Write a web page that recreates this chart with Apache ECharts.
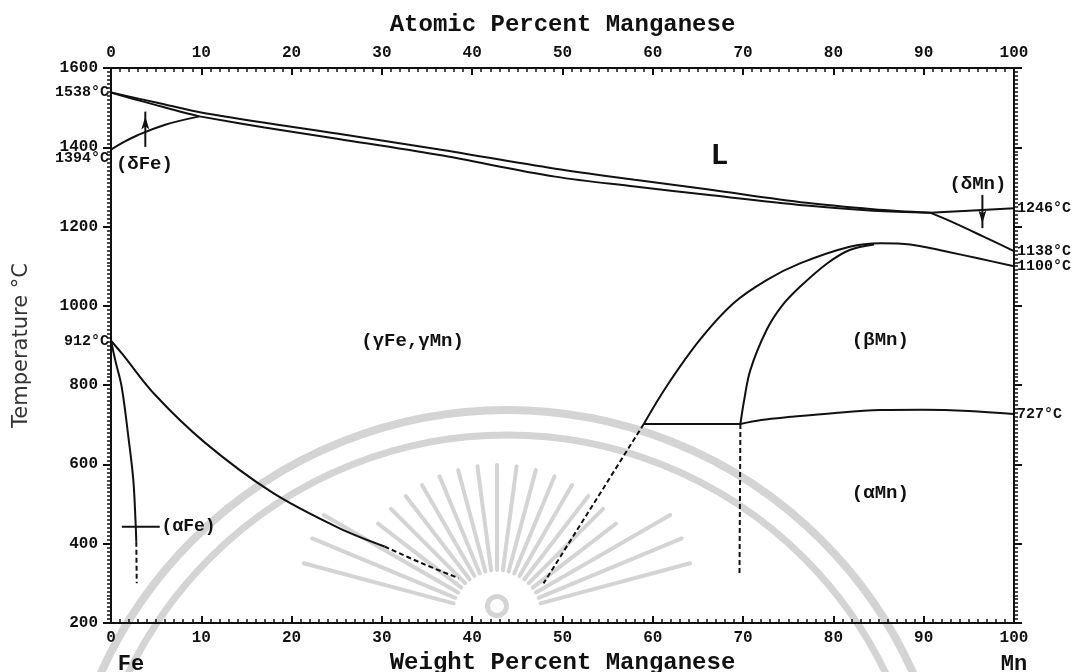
<!DOCTYPE html>
<html><head><meta charset="utf-8">
<script src="https://cdn.jsdelivr.net/npm/echarts@6/dist/echarts.min.js"></script>
<style>html,body{margin:0;padding:0;background:#fff}#c{width:1081px;height:672px}</style>
</head><body><div id="c"></div>
<script>
// ---- data (weight % Mn, temperature °C) ----
const liquidus = [[0,1538],[5,1513],[10.4,1486],[25.2,1434],[36.2,1395],[49.2,1346],[58,1318],[66,1294],[77,1260],[84.4,1244],[90.7,1235]];
const deltaFeSolidus = [[0,1538],[2.5,1522],[4.9,1507],[7.5,1491],[9.8,1478]];
const deltaFeGammaBoundary = [[0,1394],[1.5,1414],[3,1431],[6,1457],[9.8,1478]];
const gammaSolidus = [[9.8,1478],[17,1450],[25.2,1421],[36.2,1381],[49.2,1326],[58,1301],[66,1280],[77,1253],[84.4,1240],[90.7,1235]];
const deltaMnLiquidus = [[90.7,1235],[95,1240],[100,1246]];
const deltaMnGammaBoundary = [[90.7,1235],[93,1213],[96.5,1176],[100,1138]];
const gammaBetaOuter = [[59,702],[61.5,796],[65.2,914],[68.9,1006],[72.6,1065],[76.3,1107],[81.8,1149],[85.2,1158],[88.5,1155],[92.5,1137],[96,1120],[100,1100]];
const gammaBetaInner = [[69.7,702],[70.1,760],[70.8,838],[72.6,939],[74.3,1000],[76.3,1048],[79.3,1107],[81.8,1141],[84.5,1155]];
const eutectoid = [[59,702],[69.7,702]];
const alphaBetaMn = [[69.7,702],[72,712],[75.3,720],[80.2,730],[85.2,737],[89.8,738],[95,735],[100,727]];
const gammaAlphaFe = [[0,912],[1.2,880],[4.9,775],[10.4,655],[17.8,530],[25.2,440],[30.3,393]];
const gammaAlphaFeDashed = [[30.3,393],[34.5,350],[38.5,313]];
const alphaFeSolvus = [[0,912],[0.5,860],[1.18,796],[1.92,670],[2.47,561],[2.73,450],[2.8,405]];
const alphaFeSolvusDashed = [[2.8,405],[2.85,300]];
const betaDashed = [[59,702],[47.9,300]];
const mnDashed = [[69.7,702],[69.6,325]];
const alphaFeMarker = [[1.2,443],[5.4,443]];
const deltaFeArrow = [[3.8,1401],[3.8,1490]];
const deltaMnArrow = [[96.5,1280],[96.5,1196]];

const regionLabels = [[67.4,1376,'L'],[33.4,911,'(γFe,γMn)'],[85.2,914,'(βMn)'],[85.2,528,'(αMn)'],[3.7,1358,'(δFe)'],[96,1306,'(δMn)']];
const alphaFeLabel = [[5.6,443,'(αFe)']];
const leftTempLabels = [[0,1538,'1538°C'],[0,1394,'1394°C'],[0,912,'912°C']];
const rightTempLabels = [[100,1246,'1246°C'],[100,1138,'1138°C'],[100,1100,'1100°C'],[100,727,'727°C']];
const elementLabels = [[0,200,'Fe'],[100,200,'Mn']];

const xTickValues = [0,10,20,30,40,50,60,70,80,90,100];
const yTickValues = [200,400,600,800,1000,1200,1400,1600];

// ---- build ----
const MONO = 'Liberation Mono';
const INK = '#111';
function lineSeries(data, opts) {
  opts = opts || {};
  return {
    type: 'line', data: data, symbol: 'none', silent: true, animation: false,
    smooth: data.length > 2 ? (opts.smooth != null ? opts.smooth : 0.35) : false,
    lineStyle: { color: INK, width: opts.width || 2, type: opts.dashed ? [5, 3] : 'solid' },
    z: 3
  };
}
function arrowSeries(data, rotate) {
  return {
    type: 'line', silent: true, animation: false, z: 3,
    data: [{ value: data[0], symbol: 'none' }, { value: data[1], symbol: 'arrow', symbolSize: [6, 13], symbolRotate: rotate, symbolOffset: [0, rotate ? -5 : 5] }],
    lineStyle: { color: INK, width: 2 }, itemStyle: { color: INK }
  };
}
function labelSeries(arr, labelOpt) {
  return {
    type: 'scatter', silent: true, animation: false, clip: false, symbolSize: 0.1,
    itemStyle: { color: INK, opacity: 1 }, z: 4,
    data: arr.map(d => ({ value: [d[0], d[1]], label: Object.assign({ show: true, formatter: d[2], opacity: 1, textBorderWidth: 0 }, typeof labelOpt === 'function' ? labelOpt(d) : labelOpt) }))
  };
}

const series = [
  lineSeries(liquidus), lineSeries(deltaFeSolidus), lineSeries(deltaFeGammaBoundary), lineSeries(gammaSolidus),
  lineSeries(deltaMnLiquidus), lineSeries(deltaMnGammaBoundary), lineSeries(gammaBetaOuter), lineSeries(gammaBetaInner),
  lineSeries(eutectoid), lineSeries(alphaBetaMn), lineSeries(gammaAlphaFe), lineSeries(gammaAlphaFeDashed, { dashed: true }),
  lineSeries(alphaFeSolvus), lineSeries(alphaFeSolvusDashed, { dashed: true }), lineSeries(betaDashed, { dashed: true }),
  lineSeries(mnDashed, { dashed: true }), lineSeries(alphaFeMarker),
  arrowSeries(deltaFeArrow, 0), arrowSeries(deltaMnArrow, 180),
  labelSeries(regionLabels, d => ({ position: 'inside', color: INK, fontFamily: MONO, fontWeight: 'bold', fontSize: d[2] === 'L' ? 30 : 19 })),
  labelSeries(alphaFeLabel, { position: 'right', distance: 0, color: INK, fontFamily: MONO, fontWeight: 'bold', fontSize: 18 }),
  labelSeries(leftTempLabels, d => ({ position: 'left', distance: 2, offset: [0, d[2] === '1394°C' ? 9 : 0], color: INK, fontFamily: MONO, fontWeight: 'bold', fontSize: 15 })),
  labelSeries(rightTempLabels, { position: 'right', distance: 3, color: INK, fontFamily: MONO, fontWeight: 'bold', fontSize: 15 }),
  labelSeries(elementLabels, d => ({ position: 'bottom', distance: 30, offset: [d[2] === 'Fe' ? 20 : 0, 0], color: INK, fontFamily: MONO, fontWeight: 'bold', fontSize: 22 }))
];

// watermark (decoration)
const wm = '#d4d4d4';
const wmElements = [
  { type: 'arc', z: 0, shape: { cx: 507, cy: 855, r: 445, startAngle: Math.PI, endAngle: 2 * Math.PI }, style: { stroke: wm, lineWidth: 8, fill: null } },
  { type: 'arc', z: 0, shape: { cx: 507, cy: 855, r: 420, startAngle: Math.PI, endAngle: 2 * Math.PI }, style: { stroke: wm, lineWidth: 7, fill: null } },
  { type: 'ring', z: 0, shape: { cx: 497, cy: 606, r: 12, r0: 7 }, style: { fill: wm } }
];
for (let a = 195; a <= 345; a += 7.5) {
  const t = a * Math.PI / 180;
  const r1 = 45, r2 = (a < 215 || a > 325) ? 200 : 150;
  wmElements.push({ type: 'line', z: 0, shape: { x1: 497 + r1 * Math.cos(t), y1: 615 + r1 * Math.sin(t), x2: 497 + r2 * Math.cos(t), y2: 615 + r2 * Math.sin(t) }, style: { stroke: wm, lineWidth: 4, lineCap: 'round' } });
}

const axisTextStyle = { color: INK, fontFamily: MONO, fontWeight: 'bold', fontSize: 16 };
function xAxisCfg(pos, name, gap) {
  return {
    type: 'value', position: pos, min: 0, max: 100, interval: 10,
    name: name, nameLocation: 'middle', nameGap: gap,
    nameTextStyle: { color: INK, fontFamily: MONO, fontWeight: 'bold', fontSize: 24 },
    axisLine: { show: true, onZero: false, lineStyle: { color: INK, width: 2 } },
    axisTick: { show: true, inside: true, length: 7, lineStyle: { color: INK, width: 2 } },
    minorTick: { show: true, splitNumber: 10, length: 4, lineStyle: { color: INK, width: 1.5 } },
    axisLabel: Object.assign({ margin: 7, formatter: v => xTickValues.includes(v) ? String(v) : '' }, axisTextStyle),
    splitLine: { show: false }
  };
}
function yAxisCfg(pos, showLabel) {
  return {
    type: 'value', position: pos, min: 200, max: 1600, interval: 200,
    name: showLabel ? 'Temperature °C' : '', nameLocation: 'middle', nameGap: 79,
    nameTextStyle: { color: '#333', fontFamily: 'DejaVu Sans', fontSize: 21 },
    axisLine: { show: true, onZero: false, lineStyle: { color: INK, width: 2 } },
    axisTick: { show: true, inside: false, length: 8, lineStyle: { color: INK, width: 2 } },
    minorTick: { show: true, splitNumber: 20, length: 4, lineStyle: { color: INK, width: 1.5 } },
    axisLabel: Object.assign({ show: showLabel, margin: 13, formatter: v => yTickValues.includes(v) ? String(v) : '' }, axisTextStyle),
    splitLine: { show: false }
  };
}

const chart = echarts.init(document.getElementById('c'), null, { renderer: 'canvas' });
chart.setOption({
  backgroundColor: '#fff',
  animation: false,
  grid: { left: 111, right: 67, top: 68, bottom: 49, containLabel: false, outerBoundsMode: 'none' },
  xAxis: [xAxisCfg('bottom', 'Weight Percent Manganese', 28), xAxisCfg('top', 'Atomic Percent Manganese', 31)],
  yAxis: [yAxisCfg('left', true), yAxisCfg('right', false)],
  graphic: { elements: wmElements },
  series: series
});
</script>
</body></html>
